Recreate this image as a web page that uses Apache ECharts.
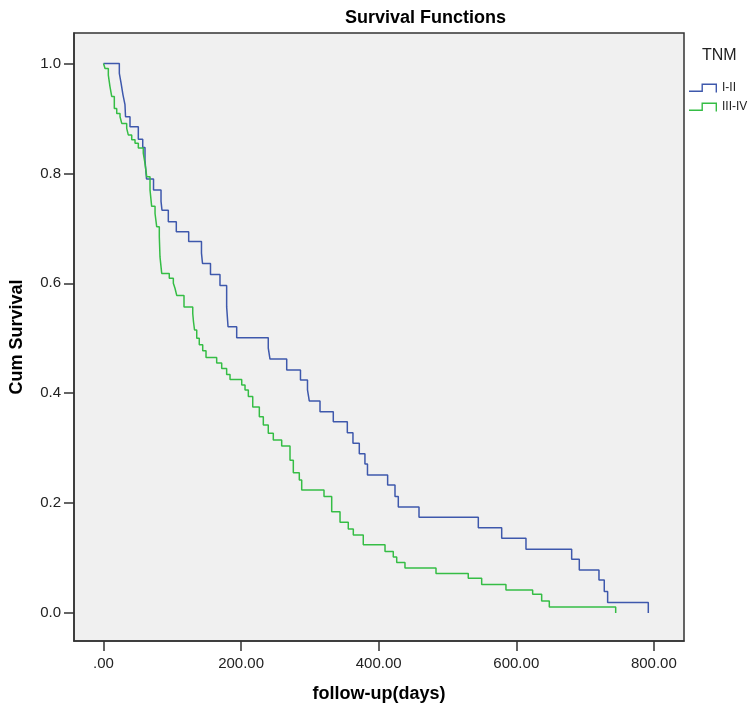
<!DOCTYPE html>
<html>
<head>
<meta charset="utf-8">
<script src="https://cdn.jsdelivr.net/npm/echarts@6/dist/echarts.min.js"></script>
<style>
html,body{margin:0;padding:0;background:#fff;}
#chart{width:750px;height:716px;}
</style>
</head>
<body>
<div id="chart"></div>
<script>
// Kaplan-Meier steps: [days, cumulative survival after event]
var stageI_II_days = [0, 23, 25.4, 28.3, 31.2, 32, 38.5, 50.6, 57, 60.3, 62.5, 72.7, 83.6, 85, 94.2, 105.8, 123.8, 142.4, 143.9, 155.5, 169.3, 179, 181, 193.6, 239.5, 242, 266.3, 286.3, 296.5, 299.1, 314.7, 334, 354.4, 362.6, 371.8, 380, 383.7, 413, 423.7, 428.5, 458.6, 544.8, 578.8, 614.1, 680.5, 691.6, 720.2, 727.9, 732.8, 791.9];
var stageI_II_surv = [1.0, 0.982, 0.965, 0.943, 0.925, 0.903, 0.885, 0.862, 0.847, 0.824, 0.790, 0.770, 0.749, 0.733, 0.712, 0.694, 0.676, 0.655, 0.636, 0.616, 0.596, 0.557, 0.521, 0.501, 0.482, 0.462, 0.442, 0.424, 0.406, 0.386, 0.366, 0.348, 0.328, 0.309, 0.290, 0.271, 0.251, 0.233, 0.212, 0.193, 0.174, 0.155, 0.136, 0.116, 0.098, 0.078, 0.060, 0.039, 0.019, 0.0];
var stageIII_IV_days = [0, 2.2, 7.0, 9.4, 11.9, 15.7, 19.2, 24, 26.5, 33.7, 36, 41, 45.8, 50.6, 57.8, 60.3, 62.8, 67.6, 70, 74.9, 77.3, 81.1, 82.1, 84.6, 95.6, 101.5, 103.9, 106.4, 117, 129.7, 130.8, 132.3, 135.5, 139.2, 144.2, 149, 164.5, 171.8, 179, 183.9, 200.9, 205.7, 210.5, 216.9, 226.5, 232.3, 239.5, 246.8, 259, 271.1, 275.9, 284.6, 288.1, 320.5, 331.7, 343.8, 355.8, 363.1, 377.6, 409.2, 421.2, 426.2, 438.2, 483.3, 530.2, 549.7, 585, 623.8, 636.9, 648, 744.5];
var stageIII_IV_surv = [1.0, 0.991, 0.979, 0.958, 0.940, 0.918, 0.909, 0.903, 0.891, 0.882, 0.870, 0.861, 0.855, 0.846, 0.837, 0.818, 0.794, 0.770, 0.740, 0.727, 0.703, 0.685, 0.648, 0.618, 0.609, 0.600, 0.591, 0.578, 0.557, 0.545, 0.530, 0.515, 0.500, 0.488, 0.477, 0.465, 0.455, 0.445, 0.434, 0.425, 0.415, 0.406, 0.394, 0.375, 0.357, 0.342, 0.327, 0.315, 0.304, 0.278, 0.255, 0.242, 0.224, 0.212, 0.184, 0.165, 0.153, 0.142, 0.124, 0.112, 0.102, 0.092, 0.082, 0.072, 0.063, 0.052, 0.042, 0.034, 0.022, 0.011, 0.0];
var seriesNames = ['I-II', 'III-IV'];
var xTickValues = [0, 200, 400, 600, 800];
var yTickValues = [0, 0.2, 0.4, 0.6, 0.8, 1.0];

function zip(a, b) { return a.map(function (v, i) { return [v, b[i]]; }); }

var font = '"Liberation Sans", Arial, sans-serif';
var stepIcon = 'path://M0,7 L12.5,7 L12.5,0 L28,0 L28,9 L26.6,9 L26.6,1.4 L13.9,1.4 L13.9,8.4 L0,8.4 Z';
var chart = echarts.init(document.getElementById('chart'));
chart.setOption({
  animation: false,
  backgroundColor: '#ffffff',
  title: [
    { text: 'Survival Functions', left: 340, top: 4,
      textStyle: { fontFamily: font, fontSize: 18, fontWeight: 'bold', color: '#000' } },
    { text: 'TNM', left: 697, top: 43,
      textStyle: { fontFamily: font, fontSize: 16, fontWeight: 'normal', color: '#222' } }
  ],
  legend: {
    orient: 'vertical', left: 684, top: 77,
    itemWidth: 28, itemHeight: 9, itemGap: 7,
    icon: stepIcon,
    textStyle: { fontFamily: font, fontSize: 12, color: '#222' },
    data: seriesNames
  },
  grid: {
    left: 74, top: 33, width: 610, height: 608,
    show: true, backgroundColor: '#f0f0f0', borderColor: '#333', borderWidth: 1.5
  },
  xAxis: {
    type: 'value', min: -42.9, max: 843.8,
    name: 'follow-up(days)', nameLocation: 'middle', nameGap: 44,
    nameTextStyle: { fontFamily: font, fontSize: 18, fontWeight: 'bold', color: '#000' },
    axisLine: { show: true, onZero: false, lineStyle: { color: '#333', width: 1.5 } },
    axisTick: { show: true, length: 10, customValues: xTickValues, lineStyle: { color: '#333', width: 1.5 } },
    axisLabel: { margin: 15, customValues: xTickValues, fontFamily: font, fontSize: 15, color: '#222',
      formatter: function (v) { return v === 0 ? '.00' : v.toFixed(2); } },
    splitLine: { show: false }
  },
  yAxis: {
    type: 'value', min: -0.051, max: 1.0555,
    name: 'Cum Survival', nameLocation: 'middle', nameGap: 48, nameRotate: 90,
    nameTextStyle: { fontFamily: font, fontSize: 18, fontWeight: 'bold', color: '#000' },
    axisLine: { show: true, onZero: false, lineStyle: { color: '#333', width: 1.5 } },
    axisTick: { show: true, length: 10, customValues: yTickValues, lineStyle: { color: '#333', width: 1.5 } },
    axisLabel: { margin: 13, customValues: yTickValues, fontFamily: font, fontSize: 15, color: '#222',
      formatter: function (v) { return v.toFixed(1); } },
    splitLine: { show: false }
  },
  series: [
    { name: seriesNames[0], type: 'line', step: 'end', symbol: 'none',
      data: zip(stageI_II_days, stageI_II_surv),
      lineStyle: { color: '#3e58ac', width: 1.5 }, itemStyle: { color: '#3e58ac' } },
    { name: seriesNames[1], type: 'line', step: 'end', symbol: 'none',
      data: zip(stageIII_IV_days, stageIII_IV_surv),
      lineStyle: { color: '#35bd45', width: 1.5 }, itemStyle: { color: '#35bd45' } }
  ]
});
</script>
</body>
</html>
